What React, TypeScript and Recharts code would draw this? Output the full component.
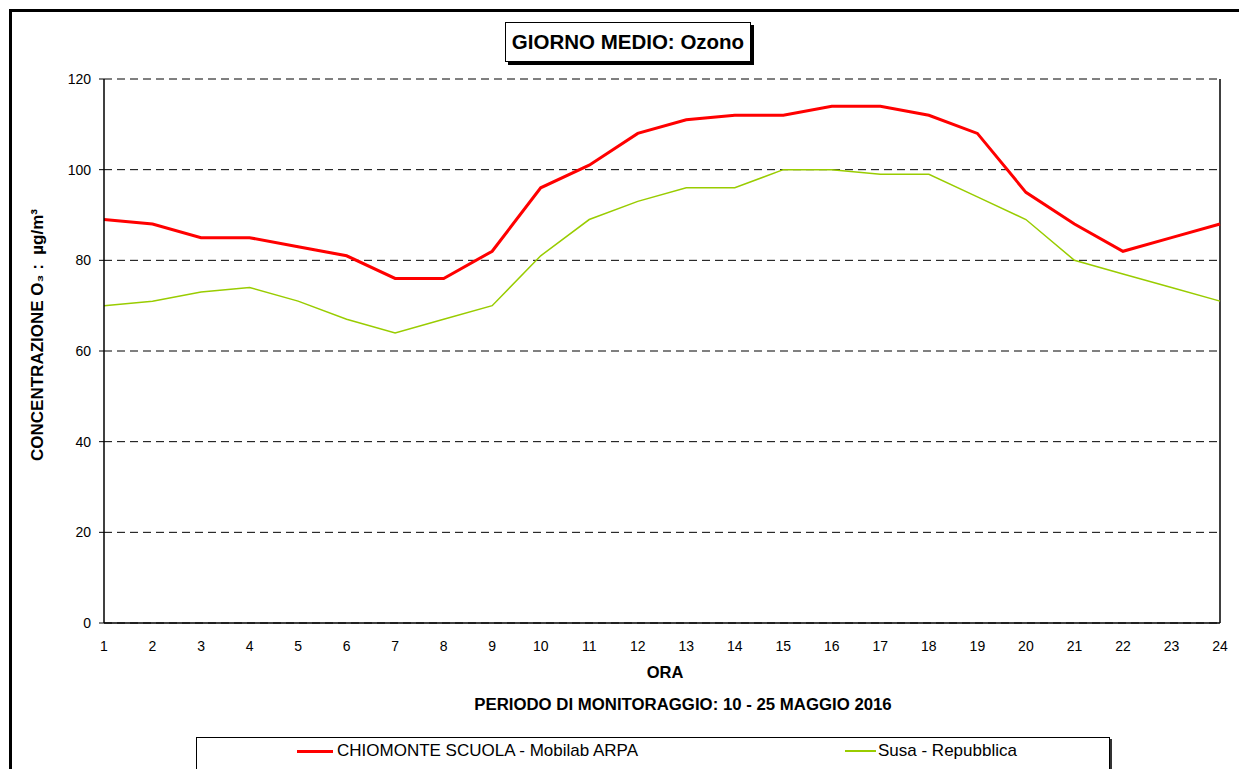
import React from 'react';
import { LineChart, Line, XAxis, YAxis, CartesianGrid, ReferenceLine } from 'recharts';

const hours = [1, 2, 3, 4, 5, 6, 7, 8, 9, 10, 11, 12, 13, 14, 15, 16, 17, 18, 19, 20, 21, 22, 23, 24];
const chiomonte = [89, 88, 85, 85, 83, 81, 76, 76, 82, 96, 101, 108, 111, 112, 112, 114, 114, 112, 108, 95, 88, 82, 85, 88];
const susa = [70, 71, 73, 74, 71, 67, 64, 67, 70, 81, 89, 93, 96, 96, 100, 100, 99, 99, 94, 89, 80, 77, 74, 71];
const yTicks = [0, 20, 40, 60, 80, 100, 120];

const seriesNames = ['CHIOMONTE SCUOLA - Mobilab ARPA', 'Susa - Repubblica'];
const title = 'GIORNO MEDIO: Ozono';
const xTitle = 'ORA';
const subTitle = 'PERIODO DI MONITORAGGIO: 10 - 25 MAGGIO 2016';
const yTitle = 'CONCENTRAZIONE O\u2083 :  \u00b5g/m\u00b3';

const data = hours.map((h, i) => ({ hour: h, chiomonte: chiomonte[i], susa: susa[i] }));

const font = '"Liberation Sans", Arial, sans-serif';

export default function App() {
  return (
    <div style={{ position: 'fixed', left: 0, top: 0, width: 1239, height: 769, background: '#fff', overflow: 'hidden', fontFamily: font }}>
      <div style={{ position: 'absolute', left: 9, top: 9, width: 1260, height: 800, border: '3px solid #000', boxSizing: 'border-box' }} />
      <div style={{ position: 'absolute', left: 0, top: 0 }}>
        <LineChart width={1239} height={769} data={data} margin={{ top: 79, right: 19, bottom: 116, left: 44 }}>
          <CartesianGrid vertical={false} stroke="#000" strokeDasharray="8 5" strokeWidth={1} />
          <XAxis
            dataKey="hour"
            type="category"
            height={30}
            tick={{ fill: '#000', fontSize: 14, fontFamily: font }}
            tickLine={false}
            tickSize={5}
            tickMargin={13}
            axisLine={{ stroke: '#000', strokeWidth: 1.5 }}
            interval={0}
          />
          <YAxis
            domain={[0, 120]}
            ticks={yTicks}
            width={60}
            tick={{ fill: '#000', fontSize: 14, fontFamily: font }}
            tickLine={{ stroke: '#000' }}
            tickSize={5}
            tickMargin={8}
            axisLine={{ stroke: '#000', strokeWidth: 1.5 }}
          />
          <ReferenceLine x={24} stroke="#000" strokeWidth={1.5} />
          <Line type="linear" dataKey="susa" stroke="#99cc00" strokeWidth={1.5} dot={false} isAnimationActive={false} />
          <Line type="linear" dataKey="chiomonte" stroke="#ff0000" strokeWidth={3} dot={false} isAnimationActive={false} />
        </LineChart>
      </div>
      <div style={{ position: 'absolute', left: 505, top: 22, width: 246, height: 40, border: '1px solid #000', background: '#fff', boxShadow: '3px 3px 0 #000', boxSizing: 'border-box', display: 'flex', alignItems: 'center', justifyContent: 'center', fontWeight: 'bold', fontSize: 20.5 }}>
        {title}
      </div>
      <div style={{ position: 'absolute', left: 565, top: 663, width: 200, textAlign: 'center', fontWeight: 'bold', fontSize: 16.5 }}>{xTitle}</div>
      <div style={{ position: 'absolute', left: 383, top: 695, width: 600, textAlign: 'center', fontWeight: 'bold', fontSize: 16.8 }}>{subTitle}</div>
      <div style={{ position: 'absolute', left: 38, top: 336, width: 0, height: 0 }}>
        <div style={{ position: 'absolute', left: -200, top: -11, width: 400, textAlign: 'center', transform: 'rotate(-90deg)', fontWeight: 'bold', fontSize: 17, whiteSpace: 'pre' }}>{yTitle}</div>
      </div>
      <div style={{ position: 'absolute', left: 196, top: 737, width: 914, height: 33, border: '1px solid #000', background: '#fff', boxShadow: '2px 2px 0 #333', boxSizing: 'border-box', fontSize: 17 }}>
        <div style={{ position: 'absolute', left: 100, top: 3, display: 'flex', alignItems: 'center' }}>
          <span style={{ display: 'inline-block', width: 36, height: 3, background: '#ff0000', marginRight: 4 }} />
          <span>{seriesNames[0]}</span>
        </div>
        <div style={{ position: 'absolute', left: 648, top: 3, display: 'flex', alignItems: 'center' }}>
          <span style={{ display: 'inline-block', width: 31, height: 1.5, background: '#99cc00', marginRight: 2 }} />
          <span>{seriesNames[1]}</span>
        </div>
      </div>
    </div>
  );
}
